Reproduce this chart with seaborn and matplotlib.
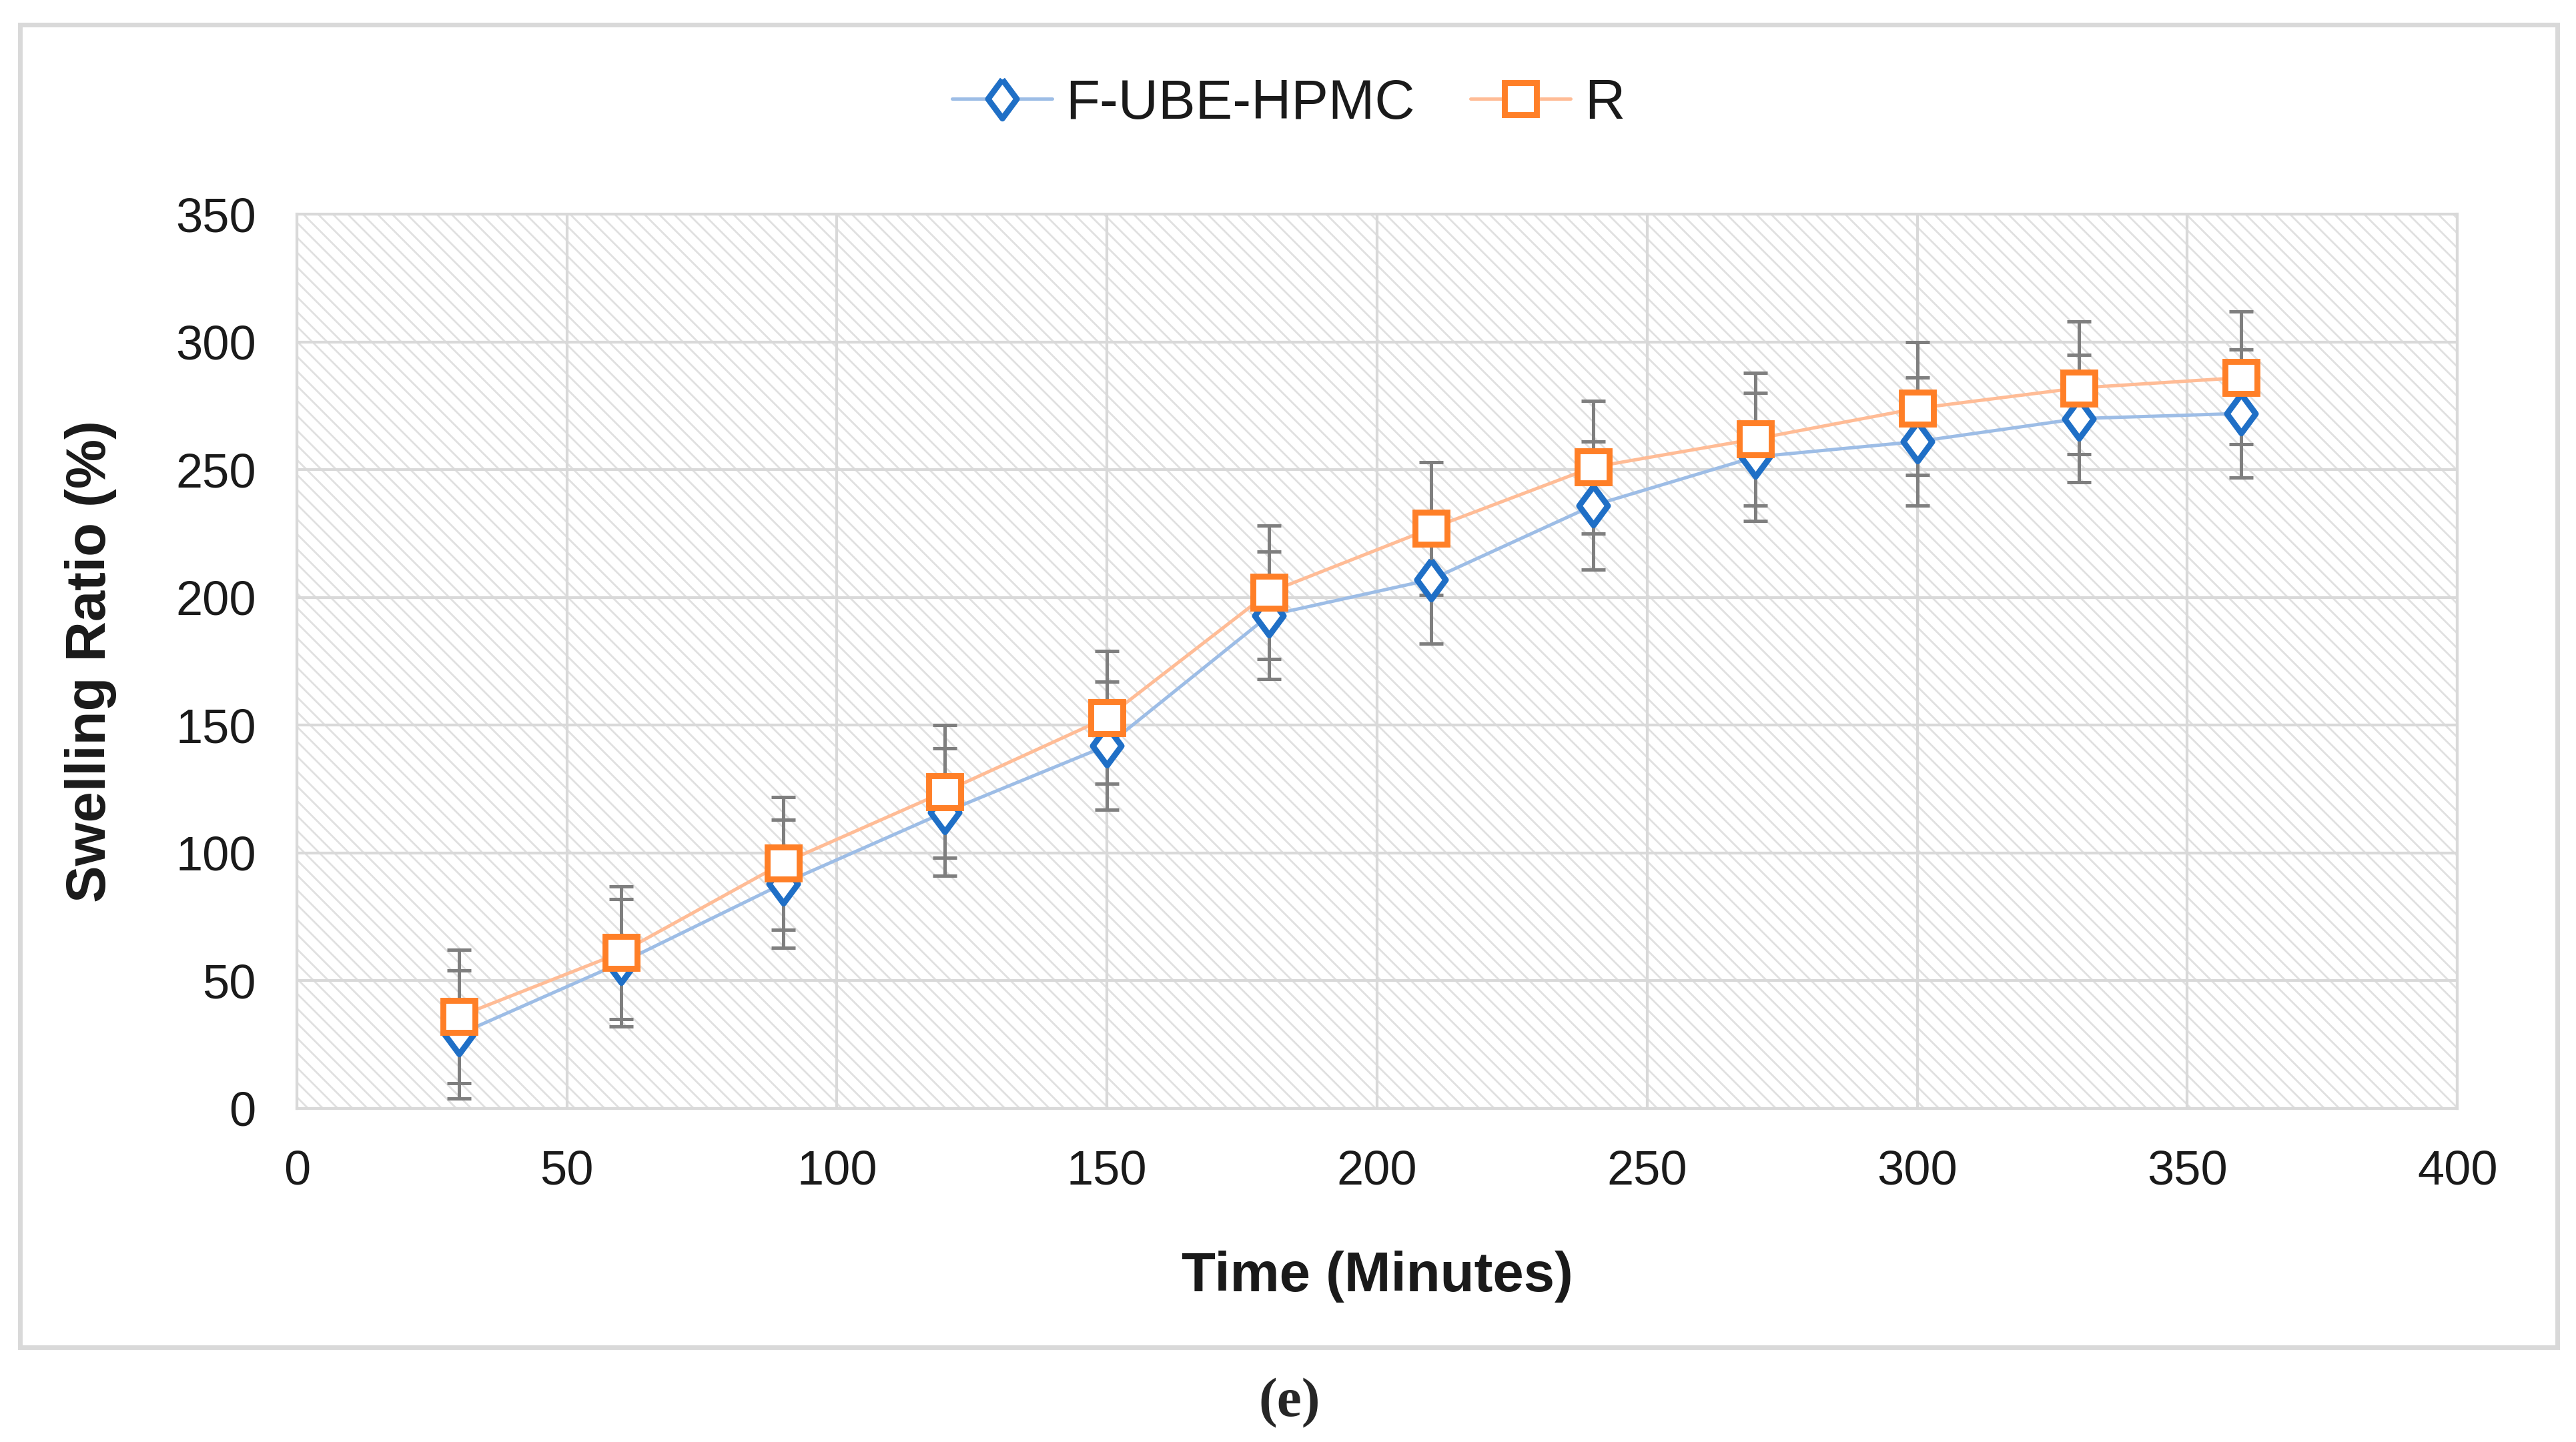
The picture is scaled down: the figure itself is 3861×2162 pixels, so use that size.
import numpy as np
import pandas as pd
import matplotlib
matplotlib.use('Agg')
import matplotlib.pyplot as plt
import seaborn as sns
from matplotlib.patches import Rectangle

# Data
time_min = [30, 60, 90, 120, 150, 180, 210, 240, 270, 300, 330, 360]
fube_hpmc = [29, 57, 88, 116, 142, 193, 207, 236, 255, 261, 270, 272]
fube_err = [25, 25, 25, 25, 25, 25, 25, 25, 25, 25, 25, 25]
r_values = [36, 61, 96, 124, 153, 202, 227, 251, 262, 274, 282, 286]
r_err = [26, 26, 26, 26, 26, 26, 26, 26, 26, 26, 26, 26]

x_ticks = [0, 50, 100, 150, 200, 250, 300, 350, 400]
y_ticks = [0, 50, 100, 150, 200, 250, 300, 350]

sns.set_theme(style='white')
plt.rcParams['font.family'] = ['Liberation Sans', 'DejaVu Sans']
plt.rcParams['hatch.linewidth'] = 1.0

df_f = pd.DataFrame({'time': time_min, 'ratio': fube_hpmc})
df_r = pd.DataFrame({'time': time_min, 'ratio': r_values})

# Excel-style diamond: a bit wider than matplotlib's thin diamond
diamond = [(0, 1), (0.74, 0), (0, -1), (-0.74, 0), (0, 1)]

fig = plt.figure(figsize=(19.31, 10.81), dpi=200)
ax = fig.add_axes([0.1152, 0.2313, 0.8385, 0.6202])

# hatched plot area background
ax.add_patch(Rectangle((0, 0), 1, 1, transform=ax.transAxes, facecolor='white',
                       edgecolor='#e0e0e0', hatch='\\\\\\', linewidth=0, zorder=0))
ax.set_axisbelow(True)
ax.grid(True, color='#d9d9d9', linewidth=1.5)

# error bars
ax.errorbar(time_min, fube_hpmc, yerr=fube_err, fmt='none', ecolor='#7f7f7f',
            elinewidth=1.8, capsize=6.5, capthick=1.8, zorder=2)
ax.errorbar(time_min, r_values, yerr=r_err, fmt='none', ecolor='#7f7f7f',
            elinewidth=1.8, capsize=6.5, capthick=1.8, zorder=2)

sns.lineplot(data=df_f, x='time', y='ratio', ax=ax, color='#9DBDE6', linewidth=1.8,
             marker=diamond, markersize=21, markerfacecolor='white',
             markeredgecolor='#1F6FC6', markeredgewidth=3.2, zorder=3,
             label='F-UBE-HPMC', legend=False)
sns.lineplot(data=df_r, x='time', y='ratio', ax=ax, color='#FFBC96', linewidth=1.8,
             marker='s', markersize=17.5, markerfacecolor='white',
             markeredgecolor='#FF7F27', markeredgewidth=3.2, zorder=4,
             label='R', legend=False)

ax.set_xlim(0, 400)
ax.set_ylim(0, 350)
ax.set_xticks(x_ticks)
ax.set_yticks(y_ticks)
ax.tick_params(length=0, pad=22, labelsize=26, labelcolor='#1a1a1a')
for s in ax.spines.values():
    s.set_color('#d9d9d9')
    s.set_linewidth(1.5)

ax.set_xlabel('Time (Minutes)', fontsize=30, fontweight='bold', color='#1a1a1a')
ax.set_ylabel('Swelling Ratio (%)', fontsize=30, fontweight='bold', color='#1a1a1a')
ax.xaxis.set_label_coords(0.5, -0.188)
ax.xaxis.label.set_va('center')
ax.yaxis.set_label_coords(-0.0954, 0.5)
ax.yaxis.label.set_va('center')

handles, labels = ax.get_legend_handles_labels()
fig.legend(handles, labels, loc='center', bbox_to_anchor=(0.5, 0.928), ncol=2,
           frameon=False, fontsize=30, handlelength=1.8, handletextpad=0.25,
           columnspacing=1.0, labelcolor='#1a1a1a')

# chart border
fig.add_artist(Rectangle((30 / 3862, 1 - 2020 / 2162), (3833 - 30) / 3862, (2020 - 37) / 2162,
                         transform=fig.transFigure, fill=False, edgecolor='#d9d9d9',
                         linewidth=2.5))

fig.text(0.5005, 0.027, '(e)', ha='center', va='center', fontsize=30,
         fontweight='bold', family=['Liberation Serif', 'DejaVu Serif'])

fig.savefig('out.png', dpi=200, facecolor='white')
